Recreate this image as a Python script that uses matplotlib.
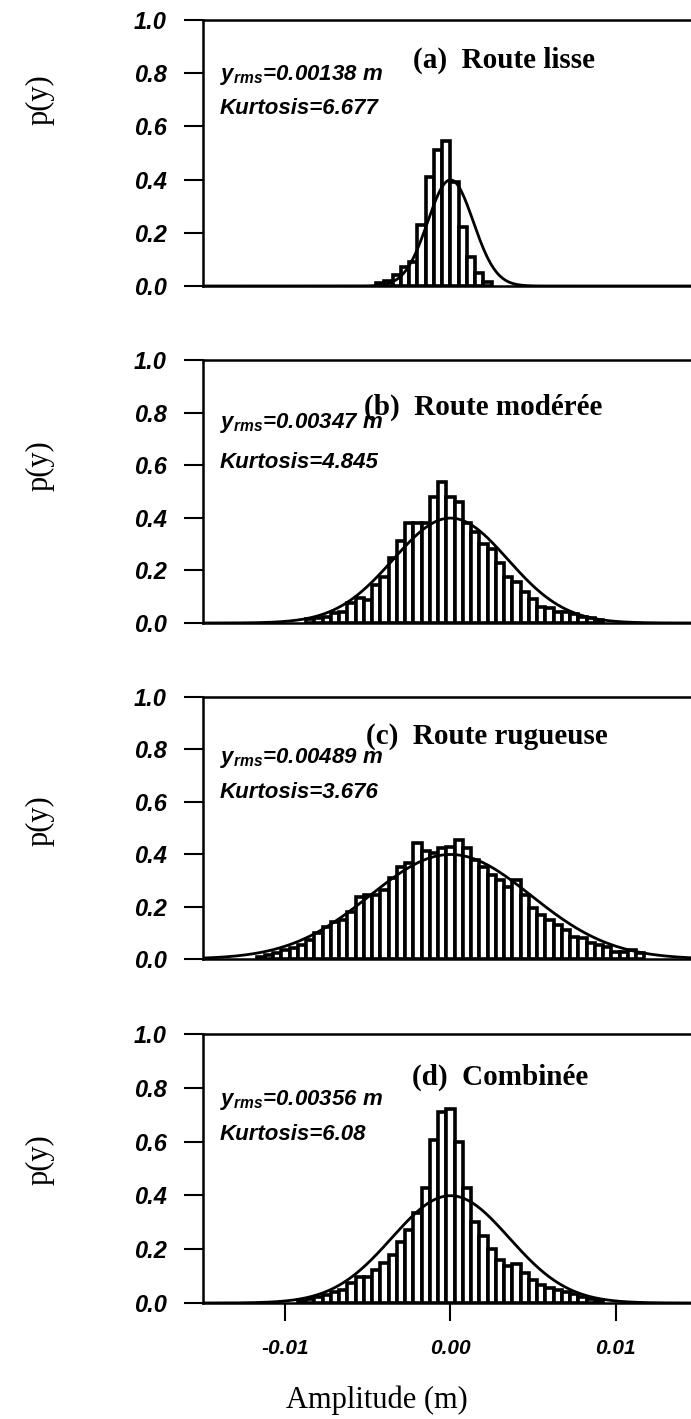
import numpy as np
import matplotlib
matplotlib.use("Agg")
import matplotlib.pyplot as plt

# Histogram of road profile amplitude, four road classes
BIN_WIDTH = 0.0005

titles = ["(a)  Route lisse", "(b)  Route modérée", "(c)  Route rugueuse", "(d)  Combinée"]
y_rms = [0.00138, 0.00347, 0.00489, 0.00356]
kurtosis = ["6.677", "4.845", "3.676", "6.08"]
rms_labels = ["0.00138", "0.00347", "0.00489", "0.00356"]

# first bin centre of each histogram
bin_start = [-0.00425, -0.0085, -0.0115, -0.009]

heights_a = [0.01, 0.02, 0.04, 0.07, 0.09, 0.23, 0.41, 0.51, 0.545, 0.39,
             0.22, 0.11, 0.05, 0.015]
heights_b = [0.015, 0.018, 0.024, 0.038, 0.043, 0.076, 0.095, 0.087, 0.144, 0.176,
             0.246, 0.31, 0.38, 0.38, 0.38, 0.48, 0.537, 0.48, 0.461, 0.38,
             0.345, 0.30, 0.28, 0.228, 0.176, 0.155, 0.117, 0.092, 0.062, 0.057,
             0.043, 0.043, 0.035, 0.024, 0.018, 0.013]
heights_c = [0.009, 0.015, 0.022, 0.034, 0.041, 0.053, 0.073, 0.098, 0.123, 0.142,
             0.149, 0.18, 0.238, 0.244, 0.244, 0.263, 0.308, 0.35, 0.365, 0.444,
             0.413, 0.406, 0.422,
             0.429, 0.454, 0.422, 0.378, 0.352, 0.32, 0.30, 0.276, 0.30, 0.244,
             0.193, 0.168, 0.149, 0.13, 0.111, 0.085, 0.079, 0.06, 0.053, 0.047,
             0.028, 0.028, 0.034, 0.022]
heights_d = [0.01, 0.015, 0.022, 0.030, 0.041, 0.049, 0.075, 0.097, 0.097, 0.123,
             0.149, 0.179, 0.228, 0.272, 0.336, 0.429, 0.605, 0.709,
             0.72,
             0.597, 0.429, 0.302, 0.25, 0.201, 0.16, 0.138, 0.145, 0.112, 0.086,
             0.067, 0.057, 0.048, 0.041, 0.035, 0.022, 0.015, 0.01]
heights = [heights_a, heights_b, heights_c, heights_d]

yticks = [0.0, 0.2, 0.4, 0.6, 0.8, 1.0]
xticks = [-0.01, 0.0, 0.01]
xticklabels = ["-0.01", "0.00", "0.01"]

W, H = 691, 1419
plt.rcParams["mathtext.fontset"] = "custom"
plt.rcParams["mathtext.it"] = "Liberation Sans:italic:bold"
plt.rcParams["mathtext.rm"] = "Liberation Sans:italic:bold"

SANS_BI = dict(family=["Liberation Sans Narrow", "Liberation Sans"], weight="bold", style="italic")
SERIF = ["Liberation Serif", "DejaVu Serif"]

fig = plt.figure(figsize=(W / 100, H / 100), dpi=100)

# axes boxes in pixels: (top, bottom)
boxes = [(20, 286), (360, 623), (697, 959), (1034, 1303)]
left_px = 203
title_pos = [(504, 60), (483, 407), (487, 737), (500, 1077)]
note_pos = [(75, 108), (423, 462), (758, 793), (1100, 1135)]
ylab_pos = [100, 466, 821, 1160]

x_left = -0.015
x_right = x_left + (W - left_px) / 16500.0

for i in range(4):
    top, bot = boxes[i]
    ax = fig.add_axes([left_px / W, 1 - bot / H, 1 - left_px / W, (bot - top) / H])
    centers = bin_start[i] + BIN_WIDTH * np.arange(len(heights[i]))
    ax.bar(centers, heights[i], width=BIN_WIDTH, color="white",
           edgecolor="black", linewidth=2.6, zorder=2)

    # normal density with the measured rms, in normalised amplitude
    xs = np.linspace(x_left, x_right, 600)
    ys = np.exp(-0.5 * (xs / y_rms[i]) ** 2) / np.sqrt(2 * np.pi)
    ax.plot(xs, ys, color="black", linewidth=2.0, zorder=3)

    ax.set_xlim(x_left, x_right)
    ax.set_ylim(0, 1.0)
    for side in ["left", "top", "bottom"]:
        ax.spines[side].set_linewidth(1.8)
    ax.spines["right"].set_visible(False)

    ax.set_yticks(yticks)
    ax.set_yticklabels([f"{v:.1f}" for v in yticks], **SANS_BI, fontsize=17)
    ax.tick_params(axis="y", direction="out", length=14, width=1.5, pad=12)
    if i == 3:
        ax.set_xticks(xticks)
        ax.set_xticklabels(xticklabels, **SANS_BI, fontsize=15)
        ax.tick_params(axis="x", direction="out", length=13, width=1.5, pad=13)
    else:
        ax.set_xticks([])

    tx, ty = title_pos[i]
    fig.text(tx / W, 1 - ty / H, titles[i], family=SERIF, weight="bold",
             fontsize=21, ha="center", va="center")
    l1, l2 = note_pos[i]
    fig.text(220 / W, 1 - l1 / H, r"$y_{rms}$=" + rms_labels[i] + " m", **SANS_BI,
             fontsize=16, ha="left", va="center")
    fig.text(220 / W, 1 - l2 / H, "Kurtosis=" + kurtosis[i], **SANS_BI,
             fontsize=16, ha="left", va="center")
    fig.text(40 / W, 1 - ylab_pos[i] / H, "p(y)", family=SERIF, fontsize=22,
             rotation=90, ha="center", va="center")

fig.text(377 / W, 1 - 1400 / H, "Amplitude (m)", family=SERIF, fontsize=22,
         ha="center", va="center")

fig.savefig("out.png", dpi=100)
